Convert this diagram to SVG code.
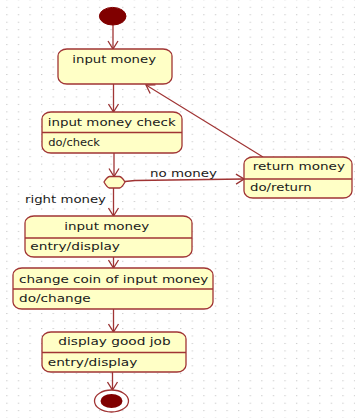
<svg xmlns="http://www.w3.org/2000/svg" width="355" height="418" viewBox="0 0 355 418">
  <defs>
    <pattern id="grid" x="6.2" y="6.8" width="11.59" height="7.47" patternUnits="userSpaceOnUse">
      <rect x="0" y="0" width="1.3" height="1" fill="#c8c8c8"/>
    </pattern>
    <marker id="arrow" viewBox="0 0 10 12" refX="9" refY="6" markerWidth="10" markerHeight="12" markerUnits="userSpaceOnUse" orient="auto">
      <path d="M1,1 L9,6 L1,11" fill="none" stroke="#993333" stroke-width="1.3"/>
    </marker>
    <style>
      .state { fill: #ffffc6; stroke: #a03434; stroke-width: 1.3; }
      .div { stroke: #a03434; stroke-width: 1.3; }
      .edge { fill: none; stroke: #a03434; stroke-width: 1.3; marker-end: url(#arrow); }
      text { font-family: "DejaVu Sans", "Liberation Sans", sans-serif; font-size: 10.8px; fill: #1a1a1a; }
    </style>
  </defs>

  <rect width="355" height="418" fill="#ffffff"/>
  <rect width="355" height="418" fill="url(#grid)"/>

  <!-- transitions -->
  <g id="connectors">
    <line class="edge" x1="113" y1="25" x2="113" y2="49"/>
    <line class="edge" x1="113.5" y1="84" x2="113.5" y2="112"/>
    <line class="edge" x1="114" y1="153" x2="114" y2="176.5"/>
    <polyline class="edge" points="125,181.5 135,180.5 244,179"/>
    <line class="edge" x1="263" y1="157" x2="146" y2="85"/>
    <line class="edge" x1="113.5" y1="188" x2="113.5" y2="216"/>
    <line class="edge" x1="113.5" y1="257" x2="113.5" y2="268"/>
    <line class="edge" x1="113.5" y1="309" x2="113.5" y2="332"/>
    <line class="edge" x1="112.5" y1="372" x2="112.5" y2="390"/>
    <text x="150" y="177" textLength="67" lengthAdjust="spacingAndGlyphs">no money</text>
    <text x="25" y="203" textLength="81" lengthAdjust="spacingAndGlyphs">right money</text>
  </g>

  <g id="start">
    <ellipse cx="112.7" cy="16.2" rx="13.3" ry="8.8" fill="#800000" stroke="#800000"/>
  </g>

  <g id="input-money">
    <rect class="state" x="58" y="49" width="114" height="35" rx="9" ry="7"/>
    <text x="72.3" y="62.5" textLength="83.7" lengthAdjust="spacingAndGlyphs">input money</text>
  </g>

  <g id="input-money-check">
    <rect class="state" x="42" y="112" width="140" height="41" rx="9" ry="7"/>
    <line class="div" x1="42" y1="132.5" x2="182" y2="132.5"/>
    <text x="47.7" y="126" textLength="128" lengthAdjust="spacingAndGlyphs">input money check</text>
    <text x="48.3" y="146" textLength="51.7" lengthAdjust="spacingAndGlyphs">do/check</text>
  </g>

  <g id="choice">
    <path d="M109.5,176.5 L119.5,176.5 Q122,177 125,182 Q122,187.5 119.5,188 L109.5,188 Q107,187.5 104,182 Q107,177 109.5,176.5 Z" fill="#ffffc6" stroke="#a03434" stroke-width="1.3"/>
  </g>

  <g id="return-money">
    <rect class="state" x="244" y="157" width="108" height="41" rx="9" ry="7"/>
    <line class="div" x1="244" y1="179" x2="352" y2="179"/>
    <text x="252.7" y="170" textLength="92.3" lengthAdjust="spacingAndGlyphs">return money</text>
    <text x="250" y="190.5" textLength="61.7" lengthAdjust="spacingAndGlyphs">do/return</text>
  </g>

  <g id="input-money-display">
    <rect class="state" x="25" y="216" width="167" height="41" rx="9" ry="7"/>
    <line class="div" x1="25" y1="238" x2="192" y2="238"/>
    <text x="64.3" y="229.5" textLength="85" lengthAdjust="spacingAndGlyphs">input money</text>
    <text x="30.3" y="249.5" textLength="89.7" lengthAdjust="spacingAndGlyphs">entry/display</text>
  </g>

  <g id="change-coin">
    <rect class="state" x="13" y="268" width="200" height="41" rx="9" ry="7"/>
    <line class="div" x1="13" y1="289" x2="213" y2="289"/>
    <text x="19" y="282.5" textLength="189.3" lengthAdjust="spacingAndGlyphs">change coin of input money</text>
    <text x="19" y="302" textLength="71.7" lengthAdjust="spacingAndGlyphs">do/change</text>
  </g>

  <g id="display-good-job">
    <rect class="state" x="42" y="332" width="144" height="40" rx="9" ry="7"/>
    <line class="div" x1="42" y1="352.5" x2="186" y2="352.5"/>
    <text x="58.3" y="345" textLength="112.3" lengthAdjust="spacingAndGlyphs">display good job</text>
    <text x="47.7" y="365.5" textLength="89.7" lengthAdjust="spacingAndGlyphs">entry/display</text>
  </g>

  <g id="end">
    <ellipse cx="111.5" cy="401" rx="17" ry="11" fill="#ffffff" stroke="#a03434" stroke-width="1.3"/>
    <ellipse cx="111.5" cy="401" rx="11" ry="7" fill="#800000"/>
  </g>
</svg>
